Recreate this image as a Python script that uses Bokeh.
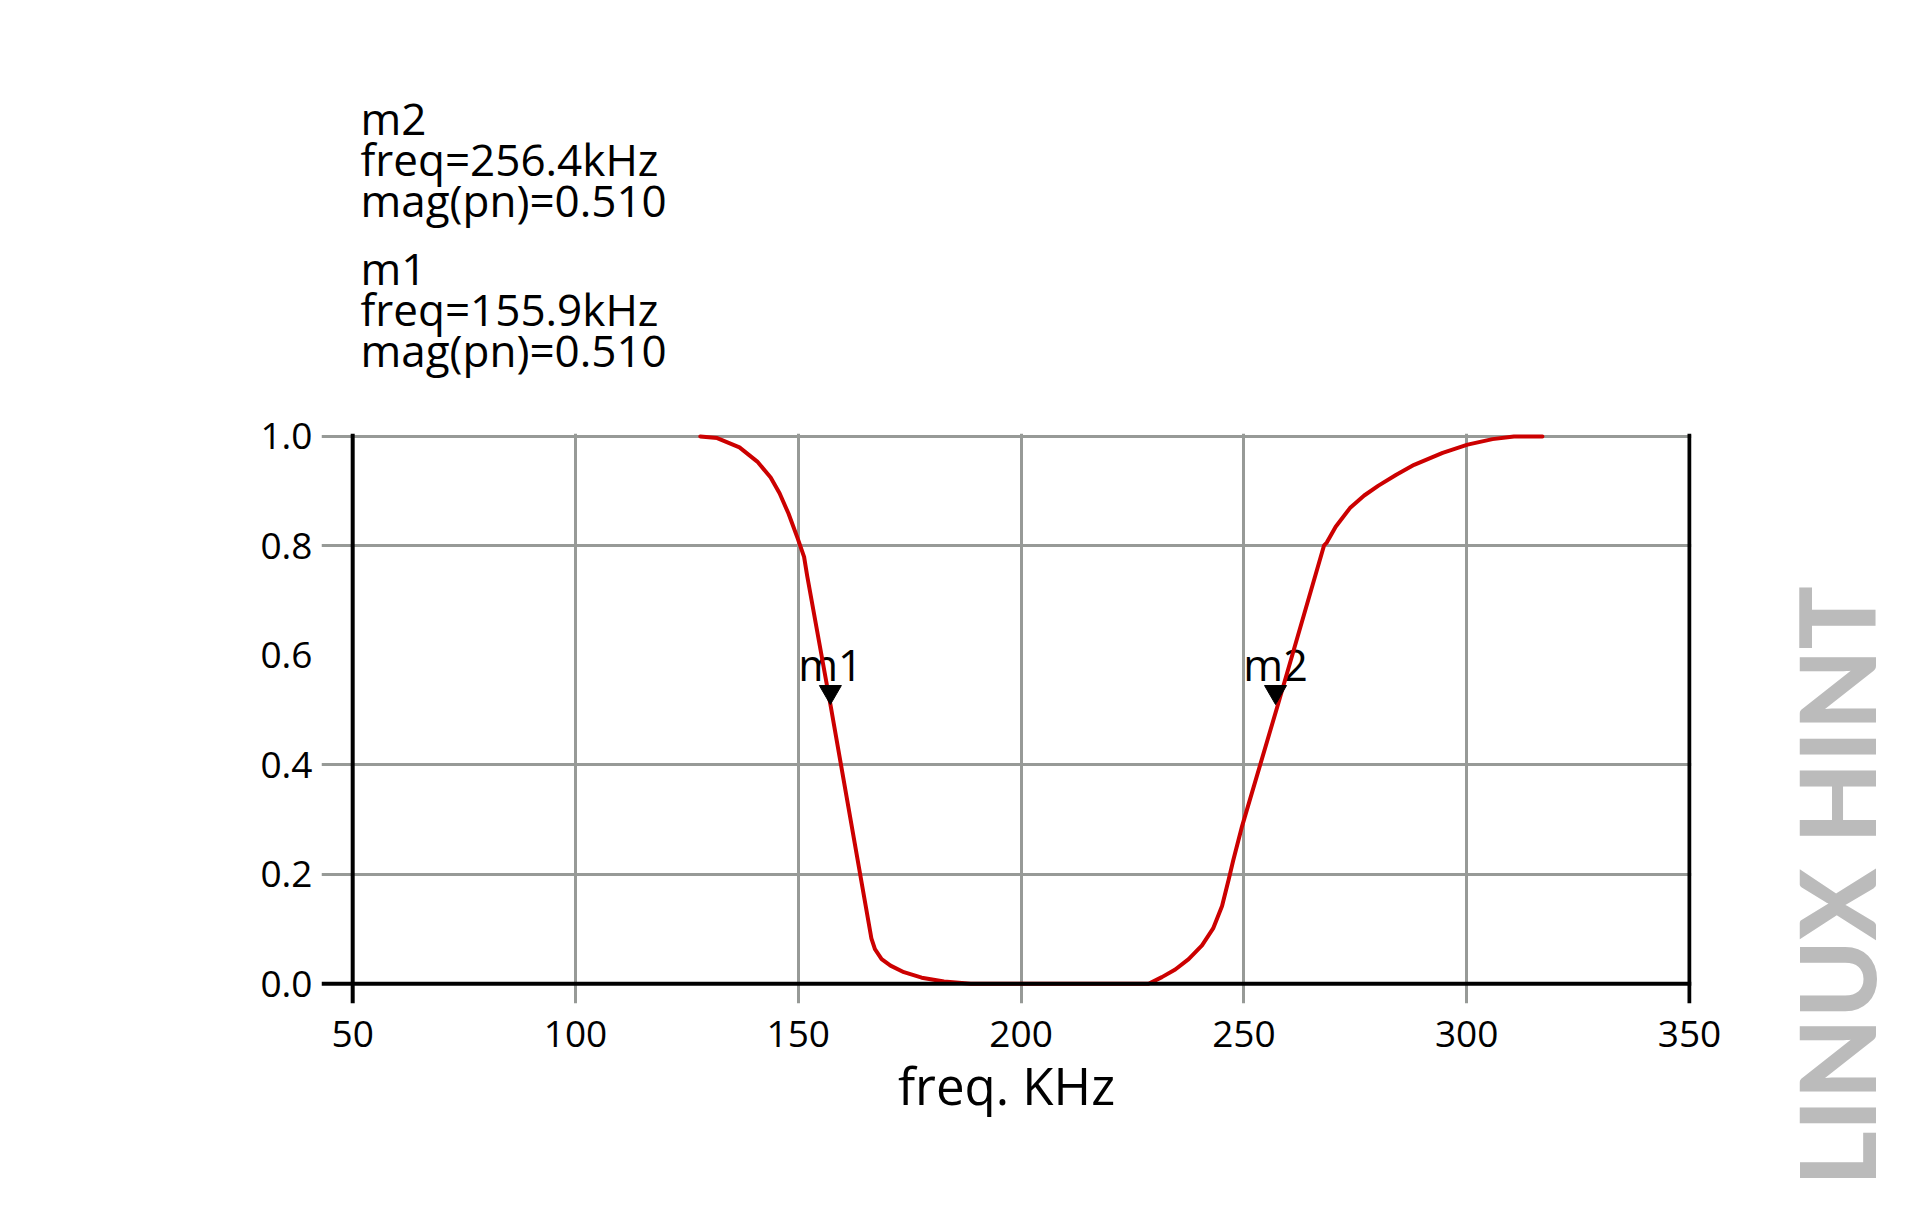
from bokeh.plotting import figure
from bokeh.layouts import column, row
from bokeh.models import Range1d, FixedTicker, PrintfTickFormatter, Span, ColumnDataSource
from bokeh.transform import dodge
from bokeh.core.properties import value
from bokeh.embed import file_html
from bokeh.resources import INLINE

# ---------------- data ----------------
freq_khz = [128.0, 131.8, 136.8, 140.8, 143.8, 145.8, 147.8, 149.8, 151.3, 152.0,
            157.3, 166.4, 167.2, 168.7, 170.7, 173.7, 177.7, 182.7, 188.7, 194.7,
            210.0, 228.6, 231.6, 234.6, 237.6, 240.6, 243.1, 245.1, 246.6, 247.6,
            249.6, 257.5, 268.0, 268.6, 270.6, 273.8, 277.0, 280.2, 284.2, 288.2,
            294.6, 300.2, 305.8, 310.6, 317.0]
mag_pn = [1.000, 0.997, 0.980, 0.954, 0.925, 0.896, 0.859, 0.815, 0.780, 0.745,
          0.506, 0.083, 0.063, 0.045, 0.033, 0.021, 0.011, 0.004, 0.000, 0.000,
          0.000, 0.000, 0.012, 0.026, 0.045, 0.070, 0.101, 0.142, 0.191, 0.225,
          0.288, 0.506, 0.801, 0.806, 0.835, 0.869, 0.892, 0.910, 0.930, 0.948,
          0.970, 0.985, 0.995, 1.000, 1.000]

marker_names = ["m1", "m2"]
marker_freq = [157.2, 257.1]          # where the markers sit on the trace
marker_mag = [0.510, 0.510]
readout_freq = [155.9, 256.4]         # values printed in the readout block
readout_mag = [0.510, 0.510]

x_ticks = [50, 100, 150, 200, 250, 300, 350]
x_grid_ticks = [100, 150, 200, 250, 300]
y_ticks = [0.0, 0.2, 0.4, 0.6, 0.8, 1.0]
y_grid_ticks = [0.2, 0.4, 0.8, 1.0]
x_title = "freq. KHz"
watermark = "LINUX HINT"

# ---------------- style ----------------
FONT = "Open Sans"
GRID = "#979a97"
RED = "#cc0000"
PX_Y = 547.3  # pixels per unit of magnitude
TOP_H = 395
MAIN_W = 1768
W, H = 1924, 1218


def bare(fig):
    fig.outline_line_color = None
    fig.background_fill_color = "white"
    fig.border_fill_color = "white"
    return fig


# ---------- top strip: marker readout block ----------
top = bare(figure(width=W, height=TOP_H, x_range=Range1d(0, W), y_range=Range1d(TOP_H, 0),
                  x_axis_location=None, y_axis_location=None, title=None,
                  min_border=0, output_backend="svg", toolbar_location=None))
top.grid.visible = False
lines, ys = [], []
block_base = [135, 285]
for base, i in zip(block_base, [1, 0]):
    for k, t in enumerate([marker_names[i],
                           f"freq={readout_freq[i]:.1f}kHz",
                           f"mag(pn)={readout_mag[i]:.3f}"]):
        lines.append(t)
        ys.append(base + k * 41 - 18)
top.text(x=[360] * len(lines), y=ys, text=lines, text_font=value(FONT),
         text_font_size="44px", text_color="black", text_align="left",
         text_baseline="middle")

# ---------- main plot ----------
p = bare(figure(width=MAIN_W, height=H - TOP_H,
                x_range=Range1d(43.0, 350.45), y_range=Range1d(-0.0362, 1.0053),
                title=None, output_backend="svg", toolbar_location=None,
                min_border_left=321, min_border_right=MAIN_W - 321 - 1370,
                min_border_top=433 - TOP_H, min_border_bottom=H - TOP_H - (433 - TOP_H) - 570))

p.xgrid.ticker = FixedTicker(ticks=x_grid_ticks)
p.ygrid.ticker = FixedTicker(ticks=y_grid_ticks)
for g in (p.xgrid, p.ygrid):
    g.grid_line_color = GRID
    g.grid_line_width = 3

for ax in (p.xaxis, p.yaxis):
    ax.axis_line_color = None
    ax.major_tick_line_color = None
    ax.minor_tick_line_color = None
    ax.major_tick_out = 0
    ax.major_tick_in = 0
    ax.major_label_text_font = FONT
    ax.major_label_text_font_size = "37px"
    ax.major_label_text_color = "black"

p.xaxis.ticker = FixedTicker(ticks=x_ticks)
p.xaxis.major_label_standoff = 17
p.xaxis.axis_label = x_title
p.xaxis.axis_label_text_font = FONT
p.xaxis.axis_label_text_font_size = "51px"
p.xaxis.axis_label_text_font_style = "normal"
p.xaxis.axis_label_text_color = "black"
p.xaxis.axis_label_standoff = 0

p.yaxis.ticker = FixedTicker(ticks=y_ticks)
p.yaxis.formatter = PrintfTickFormatter(format="%.1f")
p.yaxis.major_label_standoff = 9

p.add_layout(Span(location=x_ticks[0], dimension="height", line_color="black", line_width=4))
p.add_layout(Span(location=x_ticks[-1], dimension="height", line_color="black", line_width=4))
p.add_layout(Span(location=y_ticks[0], dimension="width", line_color="black", line_width=4))

src = ColumnDataSource(dict(name=marker_names, freq=marker_freq, mag=marker_mag))
p.text(x="freq", y="mag", text="name", source=src, y_offset=-40,
       text_font=value(FONT), text_font_size="43px", text_align="center",
       text_baseline="middle", text_color="black")
p.line(freq_khz, mag_pn, line_color=RED, line_width=4, line_join="round", line_cap="round")
p.scatter(x="freq", y=dodge("mag", 12.7 / PX_Y, range=p.y_range), source=src,
          marker="inverted_triangle", size=22, color="black")

# ---------- side strip: watermark as a vertical axis title ----------
side = bare(figure(width=W - MAIN_W, height=H - TOP_H,
                   x_range=Range1d(0, 1), y_range=Range1d(0, 1),
                   x_axis_location=None, y_axis_location="left", title=None,
                   min_border_left=92, min_border_right=0,
                   min_border_top=583 - TOP_H, min_border_bottom=H - 1188,
                   output_backend="svg", toolbar_location=None))
side.grid.visible = False
sa = side.yaxis[0]
sa.ticker = FixedTicker(ticks=[-10])
sa.axis_line_color = None
sa.major_tick_line_color = None
sa.minor_tick_line_color = None
sa.major_tick_out = 0
sa.major_label_standoff = 0
sa.axis_label = watermark
sa.axis_label_standoff = 0
sa.axis_label_text_font = "Lato Black"
sa.axis_label_text_font_style = "normal"
sa.axis_label_text_font_size = "105px"
sa.axis_label_text_color = "#bbbbbb"

layout = column(top, row(p, column(side, spacing=0), spacing=0), spacing=0)
open("out.html", "w").write(file_html(layout, INLINE))
